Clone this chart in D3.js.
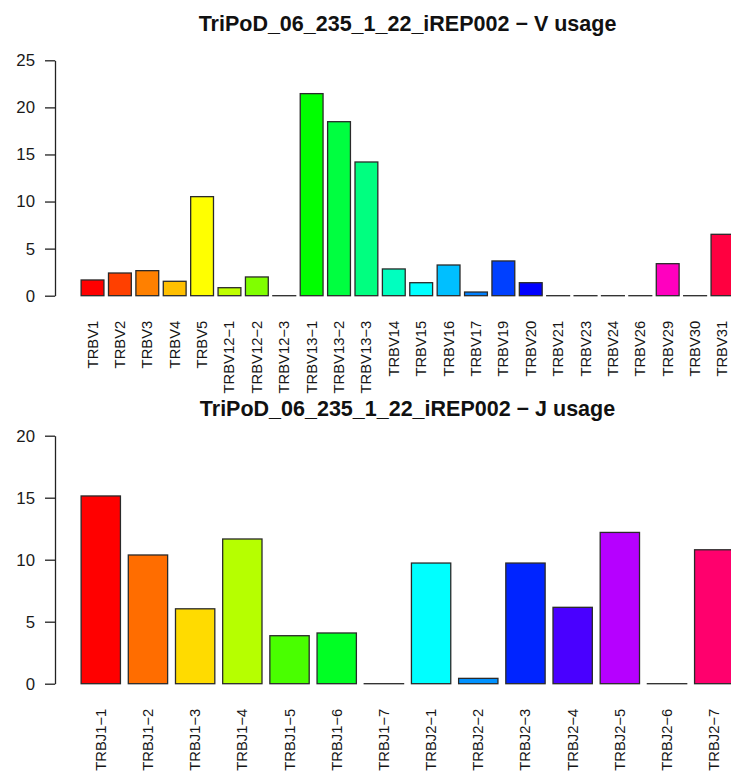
<!DOCTYPE html>
<html>
<head>
<meta charset="utf-8">
<script src="https://cdn.jsdelivr.net/npm/d3@7"></script>
<style>
  html, body { margin: 0; padding: 0; background: #fff; }
  svg { display: block; font-family: "Liberation Sans", Arial, sans-serif; }
</style>
</head>
<body>
<svg id="chart" width="731" height="771"></svg>
<script>
// ---- data ----
const vTitle = "TriPoD_06_235_1_22_iREP002 \u2212 V usage";
const vGenes = ["TRBV1","TRBV2","TRBV3","TRBV4","TRBV5","TRBV12-1","TRBV12-2","TRBV12-3",
  "TRBV13-1","TRBV13-2","TRBV13-3","TRBV14","TRBV15","TRBV16","TRBV17","TRBV19","TRBV20",
  "TRBV21","TRBV23","TRBV24","TRBV26","TRBV29","TRBV30","TRBV31"];
const vUsage = [1.67, 2.41, 2.66, 1.53, 10.52, 0.85, 1.99, 0,
  21.46, 18.48, 14.2, 2.84, 1.38, 3.26, 0.39, 3.69, 1.38,
  0, 0, 0, 0, 3.40, 0, 6.52];
const vTicks = [0, 5, 10, 15, 20, 25];

const jTitle = "TriPoD_06_235_1_22_iREP002 \u2212 J usage";
const jGenes = ["TRBJ1-1","TRBJ1-2","TRBJ1-3","TRBJ1-4","TRBJ1-5","TRBJ1-6","TRBJ1-7",
  "TRBJ2-1","TRBJ2-2","TRBJ2-3","TRBJ2-4","TRBJ2-5","TRBJ2-6","TRBJ2-7"];
const jUsage = [15.14, 10.38, 6.04, 11.67, 3.87, 4.09, 0,
  9.73, 0.43, 9.73, 6.16, 12.2, 0, 10.8];
const jTicks = [0, 5, 10, 15, 20];

// ---- drawing ----
const svg = d3.select("#chart");
const plotL = 55, plotR = 760;

function rainbow(n) {
  return d3.range(n).map(i => d3.hsl(i * 360 / n, 1, 0.5).formatHex());
}

function barplot(cfg) {
  const n = cfg.names.length;
  // R barplot user coordinates: bars at [0.2+1.2i, 1.2+1.2i], range extended 4%
  const lo0 = 0.2, hi0 = 1.2 * n;
  const ext = (hi0 - lo0) * 0.04;
  const x = d3.scaleLinear().domain([lo0 - ext, hi0 + ext]).range([plotL, plotR]);
  const y = d3.scaleLinear().domain([0, cfg.yMax]).range([cfg.y0, cfg.yTop]);
  const cols = rainbow(n);
  const g = svg.append("g");

  // title
  g.append("text")
    .attr("x", (plotL + plotR) / 2)
    .attr("y", cfg.titleY)
    .attr("text-anchor", "middle")
    .attr("font-weight", "bold")
    .attr("font-size", 21.5)
    .attr("fill", "#111")
    .text(cfg.title);

  // bars
  g.selectAll("rect.bar")
    .data(cfg.values)
    .join("rect")
    .attr("class", "bar")
    .attr("x", (d, i) => x(0.2 + 1.2 * i))
    .attr("width", (d, i) => x(1.2 + 1.2 * i) - x(0.2 + 1.2 * i))
    .attr("y", d => y(d))
    .attr("height", d => Math.max(y(0) - y(d), 0.01))
    .attr("fill", (d, i) => cols[i])
    .attr("stroke", "#2a2a2a")
    .attr("stroke-width", 1.3);

  // y axis
  const axis = d3.axisLeft(y)
    .tickValues(cfg.ticks)
    .tickFormat(d3.format("d"))
    .tickSize(10)
    .tickPadding(10)
    .tickSizeOuter(0);
  const ag = g.append("g")
    .attr("transform", `translate(${plotL},0)`)
    .call(axis);
  ag.select(".domain").attr("stroke", "#222").attr("stroke-width", 1.3);
  ag.selectAll(".tick line").attr("stroke", "#222").attr("stroke-width", 1.3);
  ag.selectAll(".tick text")
    .attr("font-size", 16.8)
    .attr("fill", "#1a1a1a")
    .attr("font-family", "Liberation Sans, Arial, sans-serif");

  // x category labels (rotated, las = 2)
  g.selectAll("text.name")
    .data(cfg.names)
    .join("text")
    .attr("class", "name")
    .attr("font-size", 14.8)
    .attr("fill", "#151515")
    .attr("text-anchor", "end")
    .attr("dominant-baseline", "central")
    .attr("transform", (d, i) => {
      const cx = x(0.7 + 1.2 * i);
      return `translate(${cx},${cfg.y0 + 25}) rotate(-90)`;
    })
    .text(d => d.replace(/-/g, "\u2212"));
}

barplot({
  title: vTitle, titleY: 31, names: vGenes, values: vUsage, ticks: vTicks,
  yMax: 25, y0: 295.7, yTop: 60.3
});
barplot({
  title: jTitle, titleY: 416, names: jGenes, values: jUsage, ticks: jTicks,
  yMax: 20, y0: 683.7, yTop: 435.7
});
</script>
</body>
</html>
